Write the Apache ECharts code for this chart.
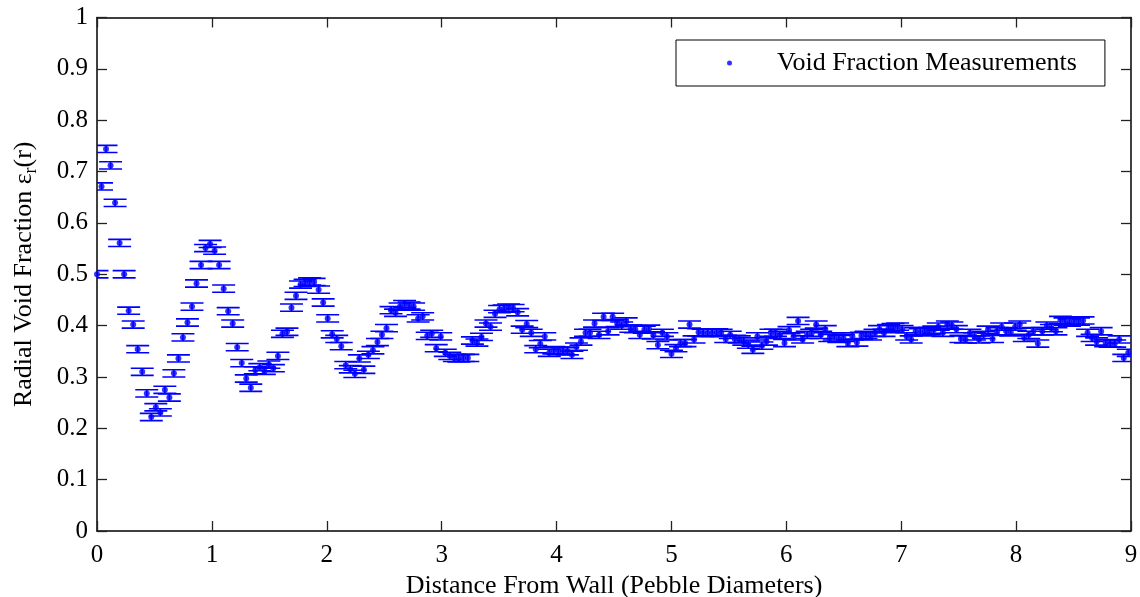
<!DOCTYPE html>
<html>
<head>
<meta charset="utf-8">
<script src="https://cdn.jsdelivr.net/npm/echarts@6/dist/echarts.min.js"></script>
<style>
html,body{margin:0;padding:0;background:#fff;}
#chart{width:1140px;height:597px;}
</style>
</head>
<body>
<div id="chart"></div>
<script>
// Measurement spacing: 1 mm steps in pebble diameters (1 inch pebbles)
const sampleSpacing = 1 / 25.4;
const errorHalfHeight = 0.007;
const errorCapHalfWidth = 0.1;
const seriesName = 'Void Fraction Measurements';
const xTicks = [0,1,2,3,4,5,6,7,8,9];
const yTicks = [0,0.1,0.2,0.3,0.4,0.5,0.6,0.7,0.8,0.9,1];

const voidFraction = [
  0.500,0.671,0.744,0.712,0.639,0.561,0.500,0.429,0.402,0.354,
  0.310,0.268,0.222,0.241,0.231,0.275,0.260,0.307,0.336,0.377,
  0.406,0.437,0.482,0.518,0.551,0.559,0.546,0.518,0.472,0.428,
  0.404,0.358,0.327,0.297,0.279,0.313,0.319,0.312,0.324,0.317,
  0.341,0.384,0.388,0.435,0.458,0.480,0.483,0.486,0.485,0.470,
  0.445,0.414,0.383,0.374,0.360,0.323,0.315,0.306,0.336,0.314,
  0.343,0.352,0.368,0.382,0.395,0.430,0.425,0.437,0.442,0.439,
  0.437,0.414,0.418,0.380,0.384,0.356,0.379,0.347,0.341,0.337,
  0.336,0.337,0.337,0.371,0.367,0.378,0.404,0.398,0.423,0.432,
  0.433,0.435,0.434,0.426,0.392,0.403,0.386,0.354,0.364,0.379,
  0.347,0.352,0.351,0.351,0.350,0.343,0.359,0.369,0.386,0.386,
  0.404,0.382,0.417,0.389,0.417,0.405,0.400,0.408,0.394,0.393,
  0.382,0.392,0.394,0.381,0.362,0.386,0.379,0.345,0.356,0.366,
  0.366,0.402,0.373,0.387,0.386,0.386,0.386,0.387,0.386,0.374,
  0.382,0.374,0.373,0.369,0.363,0.353,0.379,0.361,0.369,0.386,
  0.386,0.382,0.366,0.391,0.379,0.409,0.373,0.382,0.386,0.402,
  0.382,0.393,0.376,0.379,0.374,0.376,0.366,0.379,0.367,0.380,
  0.382,0.379,0.386,0.393,0.386,0.395,0.397,0.398,0.393,0.379,
  0.373,0.389,0.387,0.389,0.389,0.392,0.398,0.386,0.402,0.400,
  0.393,0.374,0.373,0.386,0.379,0.373,0.382,0.392,0.374,0.389,
  0.398,0.389,0.387,0.398,0.402,0.376,0.382,0.389,0.365,0.389,
  0.400,0.395,0.389,0.411,0.408,0.406,0.410,0.408,0.410,0.386,
  0.376,0.369,0.389,0.366,0.365,0.365,0.373,0.337,0.347
];

const points = voidFraction.map((v, i) => [i * sampleSpacing, v]);
const FONT = 'Liberation Serif';
const FS = 25;
const chart = echarts.init(document.getElementById('chart'), null, {renderer: 'canvas'});

const axisCommon = {
  min: 0,
  axisLine: {show: true, onZero: false, lineStyle: {color: '#000', width: 1.5}},
  axisTick: {show: true, inside: true, length: 10, lineStyle: {color: '#222', width: 1.3}},
  splitLine: {show: false}
};

chart.setOption({
  animation: false,
  backgroundColor: '#fff',
  grid: {left: 97, right: 9, top: 17.5, bottom: 66, show: false, containLabel: false, outerBoundsMode: 'none'},
  legend: {
    data: [{name: seriesName, icon: 'circle'}],
    left: 676, top: 40,
    orient: 'vertical',
    itemWidth: 5, itemHeight: 5,
    padding: [10, 28, 10, 51],
    borderColor: '#000', borderWidth: 1,
    backgroundColor: '#fff',
    textStyle: {fontFamily: FONT, fontSize: 26, color: '#000', padding: [0, 0, 0, 40]}
  },
  xAxis: [
    Object.assign({}, axisCommon, {
      type: 'value', max: 9, interval: 1, position: 'bottom',
      name: 'Distance From Wall (Pebble Diameters)',
      nameLocation: 'middle', nameGap: 40,
      nameTextStyle: {fontFamily: FONT, fontSize: 26, color: '#000'},
      axisLabel: {fontFamily: FONT, fontSize: FS, color: '#000', margin: 12,
        formatter: v => String(xTicks[Math.round(v)])}
    }),
    Object.assign({}, axisCommon, {
      type: 'value', max: 9, interval: 1, position: 'top',
      axisLabel: {show: false}
    })
  ],
  yAxis: [
    Object.assign({}, axisCommon, {
      type: 'value', max: 1, interval: 0.1, position: 'left',
      name: '{t|Radial Void Fraction ε}{s|r}{t|(r)}',
      nameLocation: 'middle', nameGap: 58,
      nameTextStyle: {
        fontFamily: FONT, fontSize: 26, color: '#000',
        rich: {
          t: {fontFamily: FONT, fontSize: 26, color: '#000', lineHeight: 30},
          s: {fontFamily: FONT, fontSize: 18, color: '#000', lineHeight: 30, padding: [14, 0, 0, 0]}
        }
      },
      axisLabel: {fontFamily: FONT, fontSize: FS, color: '#000', margin: 9,
        formatter: v => String(yTicks[Math.round(v * 10)])}
    }),
    Object.assign({}, axisCommon, {
      type: 'value', max: 1, interval: 0.1, position: 'right',
      axisLabel: {show: false}
    })
  ],
  series: [
    {
      type: 'custom',
      name: 'errorbars',
      xAxisIndex: 0, yAxisIndex: 0,
      clip: true,
      silent: true,
      data: points,
      renderItem: function (params, api) {
        const x = api.value(0), y = api.value(1);
        const top = api.coord([x, y + errorHalfHeight]);
        const bot = api.coord([x, y - errorHalfHeight]);
        const l = api.coord([x - errorCapHalfWidth, y])[0];
        const r = api.coord([x + errorCapHalfWidth, y])[0];
        const style = {stroke: '#0000ff', lineWidth: 1.6};
        return {
          type: 'group',
          children: [
            {type: 'line', shape: {x1: top[0], y1: top[1], x2: bot[0], y2: bot[1]}, style: style},
            {type: 'line', shape: {x1: l, y1: top[1], x2: r, y2: top[1]}, style: style},
            {type: 'line', shape: {x1: l, y1: bot[1], x2: r, y2: bot[1]}, style: style}
          ]
        };
      },
      z: 2
    },
    {
      type: 'scatter',
      name: seriesName,
      xAxisIndex: 0, yAxisIndex: 0,
      data: points,
      symbol: 'circle',
      symbolSize: 6,
      itemStyle: {color: '#0000ff'},
      z: 3
    }
  ]
});
</script>
</body>
</html>
